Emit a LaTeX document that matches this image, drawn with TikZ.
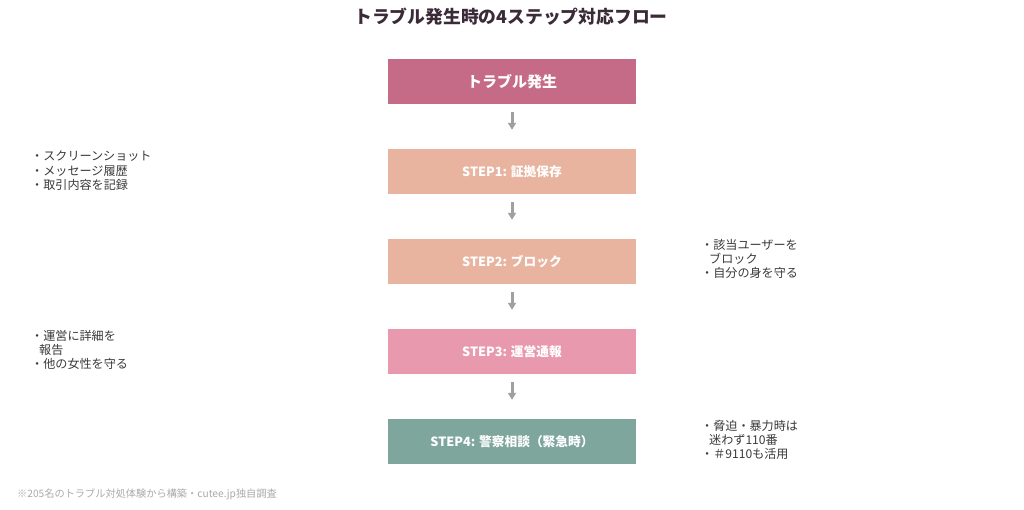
\documentclass[tikz,border=0pt]{standalone}
\usepackage{fontspec}
\setmainfont{Noto Sans CJK JP}
\usetikzlibrary{arrows.meta}
\definecolor{titlec}{HTML}{3B2A38}
\definecolor{notec}{HTML}{3A3A3A}
\definecolor{footc}{HTML}{AAAAAA}
\definecolor{c0}{HTML}{C56A87}
\definecolor{c1}{HTML}{E8B49F}
\definecolor{c3}{HTML}{E899AE}
\definecolor{c4}{HTML}{7FA69D}
\definecolor{arrc}{HTML}{A0A0A0}
\begin{document}
\begin{tikzpicture}[x=1pt,y=-1pt,
  box/.style={minimum width=248pt,minimum height=45pt,inner sep=0pt,text=white,font=\bfseries\fontsize{12.7}{14}\selectfont},
  note/.style={anchor=north west,align=left,inner sep=0pt,text=notec,font=\fontsize{12.1}{14.3}\selectfont},
  flow/.style={draw=arrc,line width=3pt,-{Triangle[length=7pt,width=8pt]},shorten <=8pt,shorten >=19pt}]
\useasboundingbox (0,0) rectangle (1024,509);
\fill[white] (0,0) rectangle (1024,509);
\node[text=titlec,font=\bfseries\fontsize{17.8}{20}\selectfont] (title) at (511,17) {トラブル発生時の4ステップ対応フロー};
\node[box,fill=c0,font=\bfseries\fontsize{15}{18}\selectfont] (b0) at (512,81.5) {トラブル発生};
\node[box,fill=c1] (b1) at (512,171.5) {STEP1: 証拠保存};
\node[box,fill=c1] (b2) at (512,261.5) {STEP2: ブロック};
\node[box,fill=c3] (b3) at (512,351.5) {STEP3: 運営通報};
\node[box,fill=c4] (b4) at (512,441.5) {STEP4: 警察相談（緊急時）};
\draw[flow] (b0.south) -- (b1.north);
\draw[flow] (b1.south) -- (b2.north);
\draw[flow] (b2.south) -- (b3.north);
\draw[flow] (b3.south) -- (b4.north);
\node[note] (n1) at (31,151) {・スクリーンショット\\・メッセージ履歴\\・取引内容を記録};
\node[note] (n2) at (701,239) {・該当ユーザーを\\\hspace{8pt}ブロック\\・自分の身を守る};
\node[note] (n3) at (31,330) {・運営に詳細を\\\hspace{8pt}報告\\・他の女性を守る};
\node[note] (n4) at (701,420) {・脅迫・暴力時は\\\hspace{8pt}迷わず110番\\・＃9110も活用};
\node[anchor=west,inner sep=0pt,text=footc,font=\fontsize{10.2}{12}\selectfont] (foot) at (17,494) {※205名のトラブル対処体験から構築・cutee.jp独自調査};
\end{tikzpicture}
\end{document}
